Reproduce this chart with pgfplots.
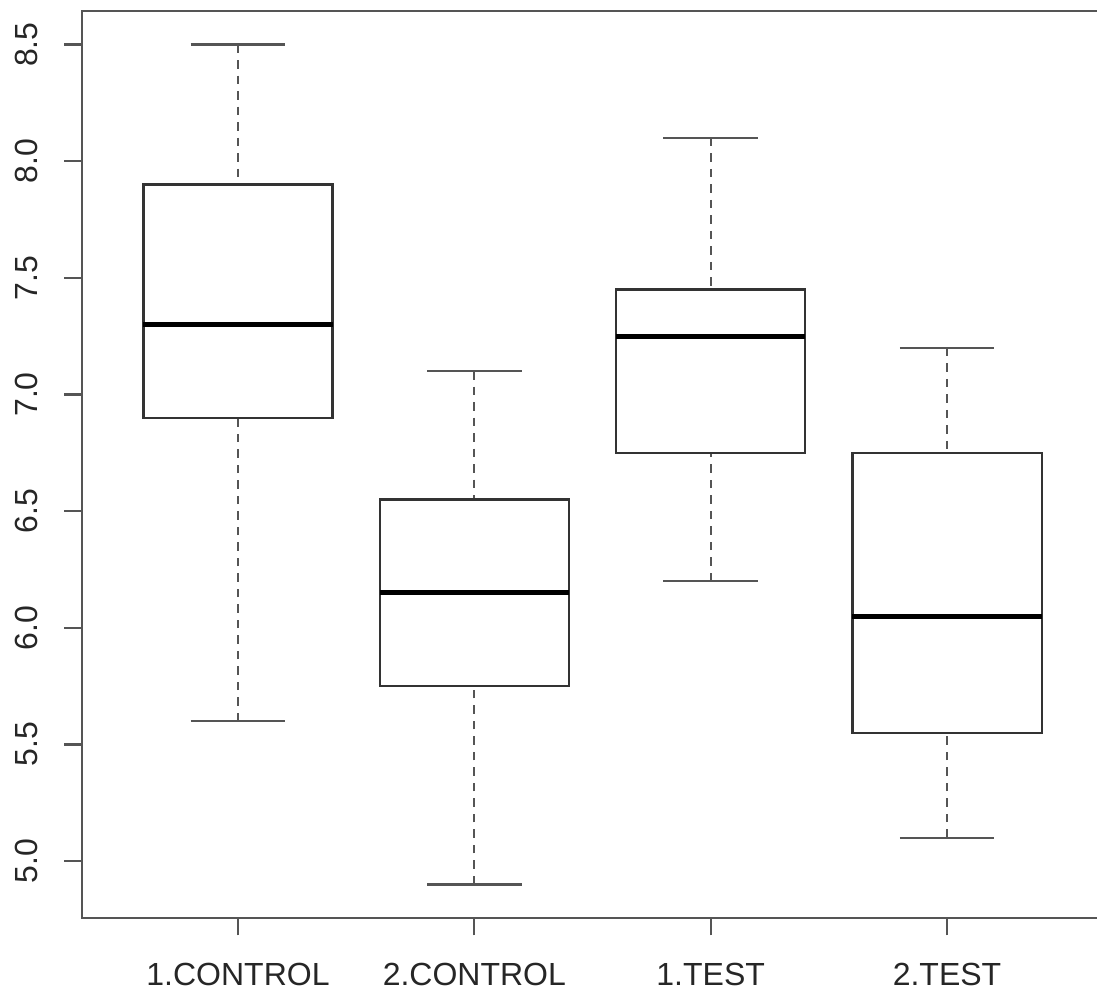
\documentclass[border=0pt]{standalone}
\usepackage{fontspec}
\setmainfont{Liberation Sans}
\usepackage{pgfplots}
\pgfplotsset{compat=1.18}
\usepgfplotslibrary{statistics}
\definecolor{axgray}{HTML}{555555}
\definecolor{boxgray}{HTML}{333333}
\tikzset{
  whiskdash/.style={draw=axgray, line width=0.8pt, dash pattern=on 3.4pt off 2.8pt},
  whiskcap/.style={draw=axgray, line width=0.9pt, solid},
}
\begin{document}
\begin{tikzpicture}
\begin{axis}[
  at={(32.8pt,30.4pt)}, anchor=south west,
  scale only axis, width=408.4pt, height=362.8pt,
  xmin=0.34, xmax=4.66, ymin=4.756, ymax=8.644,
  xtick={1,2,3,4}, xticklabels={1.CONTROL,2.CONTROL,1.TEST,2.TEST},
  ytick={5,5.5,6,6.5,7,7.5,8,8.5},
  /pgf/number format/assume math mode=true,
  yticklabel style={/pgf/number format/fixed, /pgf/number format/fixed zerofill, /pgf/number format/precision=1, rotate=90, anchor=south, yshift=7pt},
  xticklabel style={yshift=-7.6pt},
  ticklabel style={font=\fontsize{12.8}{15}\selectfont, text=black!85},
  xtick pos=bottom, ytick pos=left,
  tick align=outside, major tick length=7pt,
  axis line style={draw=axgray, line width=0.9pt},
  every tick/.style={draw=axgray, line width=0.9pt},
  boxplot/draw direction=y,
  boxplot/box extend=0.8,
  boxplot/whisker extend=0.4,
  boxplot/every box/.style={draw=boxgray, line width=0.85pt},
  boxplot/every median/.style={draw=black, line width=2pt},
  boxplot/draw/lower whisker/.code={%
    \draw[whiskdash] (boxplot box cs:\pgfplotsboxplotvalue{lower whisker},0.5) -- (boxplot box cs:\pgfplotsboxplotvalue{lower quartile},0.5);
    \draw[whiskcap] (boxplot whisker cs:\pgfplotsboxplotvalue{lower whisker},0) -- (boxplot whisker cs:\pgfplotsboxplotvalue{lower whisker},1);
  },
  boxplot/draw/upper whisker/.code={%
    \draw[whiskdash] (boxplot box cs:\pgfplotsboxplotvalue{upper whisker},0.5) -- (boxplot box cs:\pgfplotsboxplotvalue{upper quartile},0.5);
    \draw[whiskcap] (boxplot whisker cs:\pgfplotsboxplotvalue{upper whisker},0) -- (boxplot whisker cs:\pgfplotsboxplotvalue{upper whisker},1);
  },
]
\addplot[boxplot prepared={draw position=1, lower whisker=5.6, lower quartile=6.9, median=7.3, upper quartile=7.9, upper whisker=8.5}] coordinates {};
\addplot[boxplot prepared={draw position=2, lower whisker=4.9, lower quartile=5.75, median=6.15, upper quartile=6.55, upper whisker=7.1}] coordinates {};
\addplot[boxplot prepared={draw position=3, lower whisker=6.2, lower quartile=6.75, median=7.25, upper quartile=7.45, upper whisker=8.1}] coordinates {};
\addplot[boxplot prepared={draw position=4, lower whisker=5.1, lower quartile=5.55, median=6.05, upper quartile=6.75, upper whisker=7.2}] coordinates {};
\end{axis}
\pgfresetboundingbox
\path[use as bounding box] (0,0) rectangle (438.8pt,397.6pt);
\end{tikzpicture}
\end{document}
